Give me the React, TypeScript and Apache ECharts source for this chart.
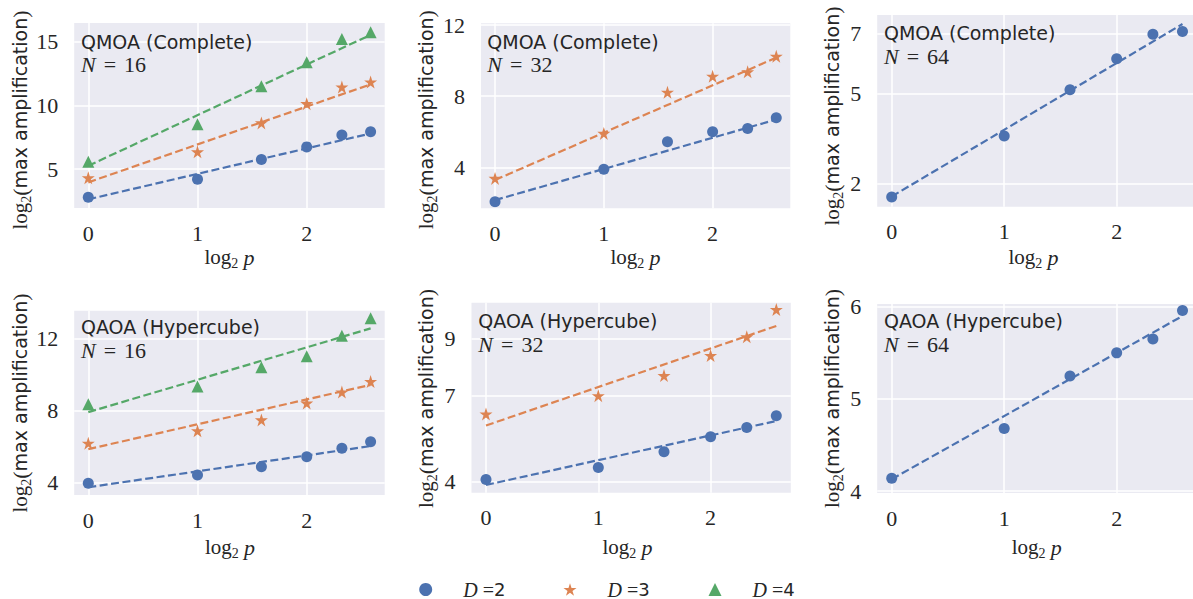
import React, { useEffect, useRef } from "react";
import * as echarts from "echarts";

// x = log2 p for p = 1..6
const xLog2P = [0, 1, 1.585, 2, 2.322, 2.585];
const xFitEnds = [0, 2.585];

// QMOA (Complete), N = 16
const qmoa16D2 = [2.79, 4.2, 5.76, 6.74, 7.68, 7.92];
const qmoa16D3 = [4.32, 6.35, 8.62, 10.13, 11.43, 11.82];
const qmoa16D4 = [5.57, 8.52, 11.5, 13.38, 15.19, 15.73];
const qmoa16Fit2 = [2.63, 7.79];
const qmoa16Fit3 = [3.96, 11.64];
const qmoa16Fit4 = [5.26, 15.52];

// QMOA (Complete), N = 32
const qmoa32D2 = [2.07, 3.9, 5.44, 6.0, 6.19, 6.79];
const qmoa32D3 = [3.38, 5.91, 8.22, 9.12, 9.37, 10.25];
const qmoa32Fit2 = [2.16, 6.69];
const qmoa32Fit3 = [3.29, 10.17];

// QMOA (Complete), N = 64
const qmoa64D2 = [1.56, 3.6, 5.14, 6.17, 6.99, 7.08];
const qmoa64Fit2 = [1.58, 7.33];

// QAOA (Hypercube), N = 16
const qaoa16D2 = [3.97, 4.43, 4.89, 5.44, 5.91, 6.27];
const qaoa16D3 = [6.19, 6.88, 7.48, 8.41, 9.02, 9.61];
const qaoa16D4 = [8.35, 9.33, 10.4, 11.0, 12.14, 13.11];
const qaoa16Fit2 = [3.75, 6.03];
const qaoa16Fit3 = [5.86, 9.42];
const qaoa16Fit4 = [7.91, 12.55];

// QAOA (Hypercube), N = 32
const qaoa32D2 = [4.08, 4.5, 5.05, 5.57, 5.89, 6.3];
const qaoa32D3 = [6.36, 7.0, 7.7, 8.4, 9.05, 10.0];
const qaoa32Fit2 = [3.89, 6.12];
const qaoa32Fit3 = [5.96, 9.43];

// QAOA (Hypercube), N = 64
const qaoa64D2 = [4.14, 4.68, 5.25, 5.5, 5.65, 5.96];
const qaoa64Fit2 = [4.13, 5.9];

const panelTitles = ["QMOA (Complete)", "QMOA (Complete)", "QMOA (Complete)", "QAOA (Hypercube)", "QAOA (Hypercube)", "QAOA (Hypercube)"];
const panelN = [16, 32, 64, 16, 32, 64];
const xTicks = [0, 1, 2];
const xRange = [-0.129, 2.714];
const yTicks = [[5, 10, 15], [4, 8, 12], [2, 5, 7], [4, 8, 12], [4, 7, 9], [4, 5, 6]];
const yRanges = [[1.95, 16.45], [1.7, 12.1], [1.24, 7.63], [3.32, 13.53], [3.62, 10.24], [3.98, 6.03]];
const depths = [2, 3, 4];

const panelSeries: { d: number; values: number[]; fit: number[] }[][] = [
  [
    { d: 2, values: qmoa16D2, fit: qmoa16Fit2 },
    { d: 3, values: qmoa16D3, fit: qmoa16Fit3 },
    { d: 4, values: qmoa16D4, fit: qmoa16Fit4 },
  ],
  [
    { d: 2, values: qmoa32D2, fit: qmoa32Fit2 },
    { d: 3, values: qmoa32D3, fit: qmoa32Fit3 },
  ],
  [{ d: 2, values: qmoa64D2, fit: qmoa64Fit2 }],
  [
    { d: 2, values: qaoa16D2, fit: qaoa16Fit2 },
    { d: 3, values: qaoa16D3, fit: qaoa16Fit3 },
    { d: 4, values: qaoa16D4, fit: qaoa16Fit4 },
  ],
  [
    { d: 2, values: qaoa32D2, fit: qaoa32Fit2 },
    { d: 3, values: qaoa32D3, fit: qaoa32Fit3 },
  ],
  [{ d: 2, values: qaoa64D2, fit: qaoa64Fit2 }],
];

// ---- layout & style ----
const layout = [
  { left: 74.2, top: 23, width: 310.5, height: 185, yNameX: 20, yNameY: 120, xNameX: 229.5, xNameY: 257, tX: 81, tY: 41.5 },
  { left: 481, top: 23.3, width: 309.3, height: 185, yNameX: 426, yNameY: 119.7, xNameX: 635.5, xNameY: 257, tX: 487.3, tY: 41.7 },
  { left: 877.2, top: 15, width: 319.8, height: 191.7, yNameX: 832, yNameY: 116, xNameX: 1033.5, xNameY: 257, tX: 884, tY: 33.3 },
  { left: 74.2, top: 310.7, width: 310.5, height: 184.3, yNameX: 20, yNameY: 403, xNameX: 230, xNameY: 547, tX: 81, tY: 327 },
  { left: 471.5, top: 302.7, width: 319.3, height: 190, yNameX: 426, yNameY: 398.5, xNameX: 627.5, xNameY: 547, tX: 478.3, tY: 321.3 },
  { left: 877.2, top: 304, width: 319.8, height: 189, yNameX: 832, yNameY: 398.5, xNameX: 1036.7, xNameY: 547, tX: 884, tY: 321.3 },
];

const SERIF = "'Liberation Serif', 'DejaVu Serif', serif";
const SANS = "'DejaVu Sans', 'Noto Sans', sans-serif";
const TXT = "#262626";
const BG = "#EAEAF2";
const COLORS: Record<number, string> = { 2: "#4C72B0", 3: "#DD8452", 4: "#55A868" };
const STAR =
  "path://M50,0 L61.2,34.5 L97.6,34.5 L68.2,55.9 L79.4,90.5 L50,69.1 L20.6,90.5 L31.8,55.9 L2.4,34.5 L38.8,34.5 Z";
const SYMBOLS: Record<number, string> = { 2: "circle", 3: STAR, 4: "triangle" };
const SIZES: Record<number, number> = { 2: 11, 3: 13, 4: 12 };
const legendLefts = [419.2, 563.5, 708.5];

const labelRich = {
  l: { fontFamily: SERIF, fontSize: 21, lineHeight: 26, fill: TXT },
  s: { fontFamily: SERIF, fontSize: 14, lineHeight: 14, fill: TXT, verticalAlign: "bottom" },
  p: { fontFamily: SERIF, fontSize: 22, lineHeight: 26, fill: TXT },
  t: { fontFamily: SANS, fontSize: 19, lineHeight: 26, fill: TXT },
  it: { fontFamily: SERIF, fontStyle: "italic", fontSize: 22, lineHeight: 26, fill: TXT },
};

const nRich = {
  i: { fontFamily: SERIF, fontStyle: "italic", fontSize: 22, lineHeight: 19, fill: TXT },
  o: { fontFamily: SERIF, fontSize: 22, lineHeight: 19, fill: TXT, padding: [0, 8, 0, 8] },
  d: { fontFamily: SERIF, fontSize: 22, lineHeight: 19, fill: TXT },
};

function buildOption() {
  const grid: any[] = [];
  const xAxis: any[] = [];
  const yAxis: any[] = [];
  const series: any[] = [];
  const graphic: any[] = [];

  layout.forEach((L, i) => {
    grid.push({
      left: L.left,
      top: L.top,
      width: L.width,
      height: L.height,
      show: true,
      backgroundColor: BG,
      borderWidth: 0,
      containLabel: false,
      outerBoundsMode: "none",
    });
    xAxis.push({
      type: "value",
      gridIndex: i,
      min: xRange[0],
      max: xRange[1],
      axisLine: { show: false, onZero: false },
      axisTick: { show: false, customValues: xTicks },
      axisLabel: { customValues: xTicks, margin: 14, fontFamily: SERIF, fontSize: 22, color: TXT },
      splitLine: { show: true, lineStyle: { color: "#ffffff", width: 1.5 } },
    });
    yAxis.push({
      type: "value",
      gridIndex: i,
      min: yRanges[i][0],
      max: yRanges[i][1],
      axisLine: { show: false, onZero: false },
      axisTick: { show: false, customValues: yTicks[i] },
      axisLabel: { customValues: yTicks[i], margin: 16, fontFamily: SERIF, fontSize: 22, color: TXT },
      splitLine: { show: true, lineStyle: { color: "#ffffff", width: 1.5 } },
    });

    panelSeries[i].forEach((s) => {
      series.push({
        type: "scatter",
        name: `D=${s.d}`,
        xAxisIndex: i,
        yAxisIndex: i,
        symbol: SYMBOLS[s.d],
        symbolSize: SIZES[s.d],
        itemStyle: { color: COLORS[s.d], opacity: 1 },
        data: xLog2P.map((x, k) => [x, s.values[k]]),
        z: 2,
      });
    });
    panelSeries[i].forEach((s) => {
      series.push({
        type: "line",
        xAxisIndex: i,
        yAxisIndex: i,
        showSymbol: false,
        symbol: "none",
        lineStyle: { color: COLORS[s.d], width: 2.2, type: [8, 3.5] },
        data: xFitEnds.map((x, k) => [x, s.fit[k]]),
        z: 3,
        silent: true,
      });
    });

    graphic.push({
      type: "text",
      x: L.tX,
      y: L.tY,
      z: 100,
      style: { text: panelTitles[i], fontFamily: SANS, fontSize: 19, lineHeight: 19, fill: TXT, align: "left", verticalAlign: "middle" },
    });
    graphic.push({
      type: "text",
      x: L.tX,
      y: L.tY + 23,
      z: 100,
      style: { text: `{i|N}{o|=}{d|${panelN[i]}}`, rich: nRich, align: "left", verticalAlign: "middle" },
    });
    graphic.push({
      type: "text",
      x: L.yNameX,
      y: L.yNameY,
      rotation: Math.PI / 2,
      z: 100,
      style: {
        text: "{l|log}{s|2}{p|(}{t|max amplification}{p|)}",
        rich: labelRich,
        align: "center",
        verticalAlign: "middle",
      },
    });
    graphic.push({
      type: "text",
      x: L.xNameX,
      y: L.xNameY,
      z: 100,
      style: {
        text: "{l|log}{s|2}{l| }{it|p}",
        rich: labelRich,
        align: "center",
        verticalAlign: "middle",
      },
    });
  });

  const legend = depths.map((d, k) => ({
    left: legendLefts[k],
    top: 579.5,
    padding: 0,
    itemWidth: 13,
    itemHeight: 13,
    selectedMode: false,
    data: [{ name: `D=${d}`, icon: SYMBOLS[d] }],
    formatter: () => `{g|}{i|D}{e| =}{n|${d}}`,
    textStyle: {
      rich: {
        g: { width: 26 },
        i: { fontFamily: SERIF, fontStyle: "italic", fontSize: 20, color: TXT },
        e: { fontFamily: SERIF, fontSize: 20, color: TXT },
        n: { fontFamily: SANS, fontSize: 18, color: TXT },
      },
    },
  }));

  return {
    animation: false,
    backgroundColor: "#ffffff",
    grid,
    xAxis,
    yAxis,
    series,
    graphic,
    legend,
  };
}

export default function App() {
  const ref = useRef<HTMLDivElement>(null);
  useEffect(() => {
    if (!ref.current) return;
    const chart = echarts.init(ref.current, undefined, { renderer: "svg" });
    chart.setOption(buildOption() as any);
    return () => chart.dispose();
  }, []);
  return (
    <div
      ref={ref}
      style={{ position: "absolute", left: 0, top: 0, width: 1193, height: 599 }}
    />
  );
}
